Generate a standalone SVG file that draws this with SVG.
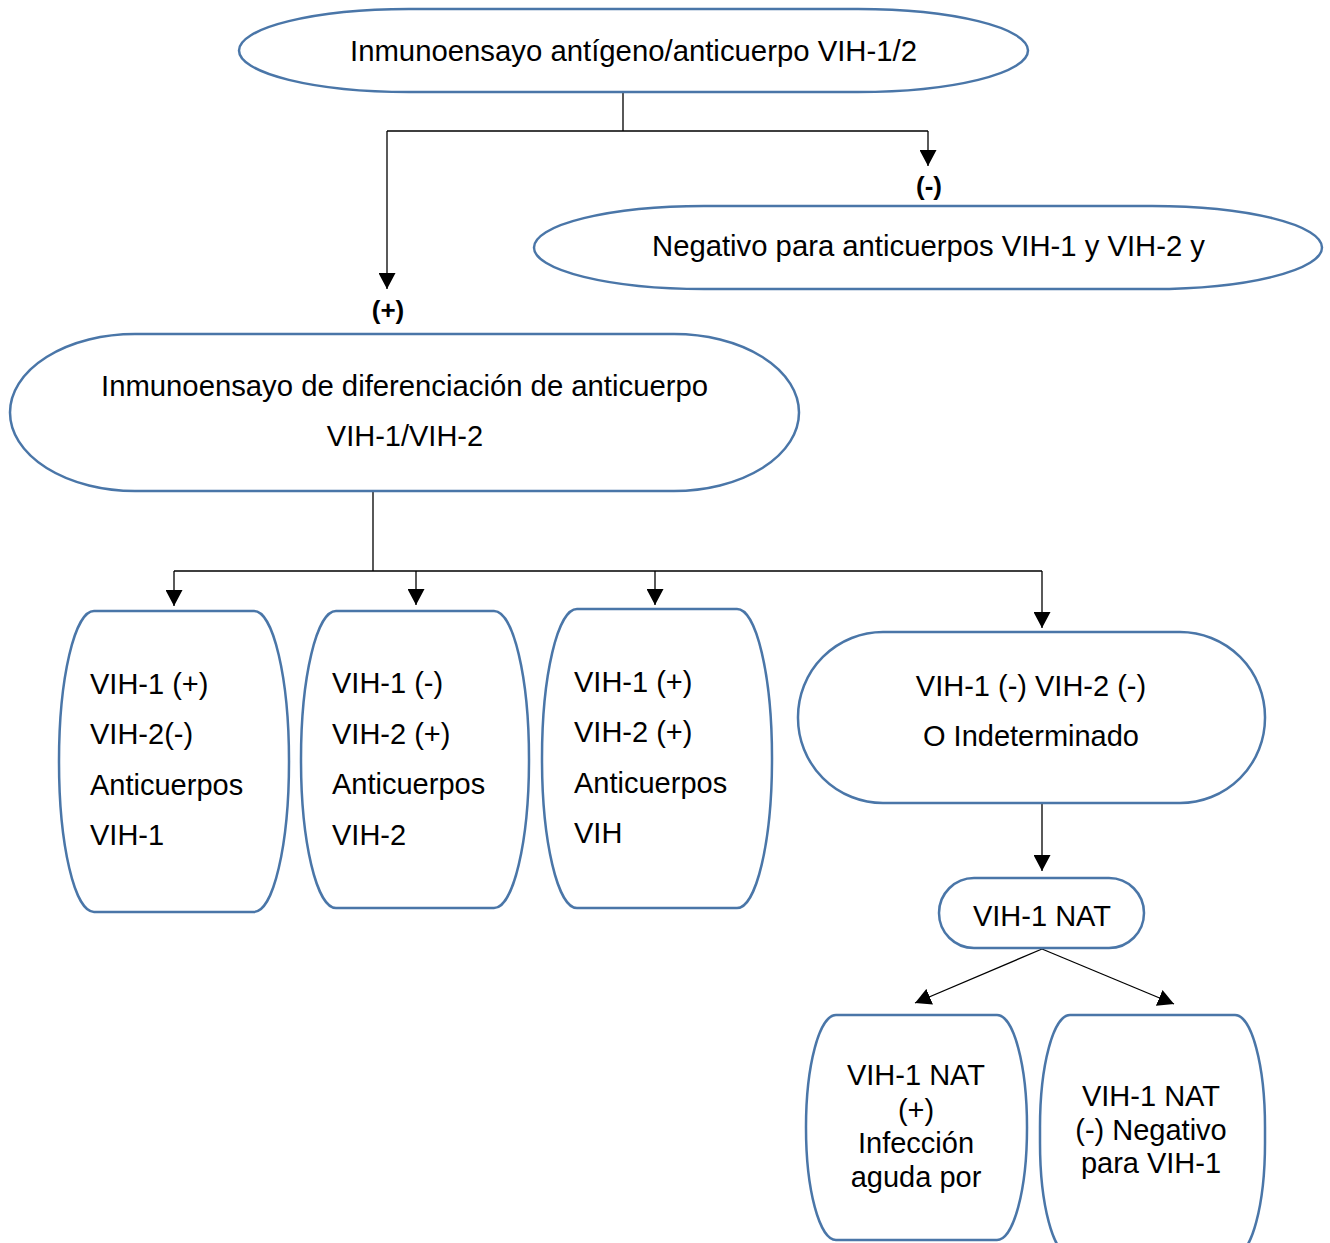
<svg xmlns="http://www.w3.org/2000/svg" width="1330" height="1243" viewBox="0 0 1330 1243">
<defs>
<style>
.n{fill:#fff;stroke:#4a76a8;stroke-width:2.5}
.t{font-family:"Liberation Sans",Arial,sans-serif;font-size:29px;fill:#000}
.c{text-anchor:middle}
.b{font-family:"Liberation Sans",Arial,sans-serif;font-size:26px;font-weight:bold;fill:#000;text-anchor:middle}
.l{fill:none;stroke:#000;stroke-width:1.3}
</style>
<marker id="a" markerUnits="userSpaceOnUse" markerWidth="17" markerHeight="17" viewBox="0 0 17 17" refX="16" refY="8.5" orient="auto">
<path d="M0,0 L16,8.5 L0,17 Z" fill="#000"/>
</marker>
</defs>
<rect width="1330" height="1243" fill="#fff"/>
<g id="connectors">
<path class="l" d="M623,92 V131 M387,131 H928"/>
<path class="l" d="M387,131 V289" marker-end="url(#a)"/>
<path class="l" d="M928,131 V166" marker-end="url(#a)"/>
<path class="l" d="M373,491 V571 M174,571 H1042"/>
<path class="l" d="M174,571 V606" marker-end="url(#a)"/>
<path class="l" d="M416,571 V605" marker-end="url(#a)"/>
<path class="l" d="M655,571 V605" marker-end="url(#a)"/>
<path class="l" d="M1042,571 V628" marker-end="url(#a)"/>
<path class="l" d="M1042,803 V871" marker-end="url(#a)"/>
<path class="l" d="M1042,949 L915,1003" marker-end="url(#a)"/>
<path class="l" d="M1042,949 L1174,1004" marker-end="url(#a)"/>
<text class="b" x="929" y="195">(-)</text>
<text class="b" x="388" y="319">(+)</text>
</g>
<g id="n1">
<rect class="n" x="239" y="9" width="789" height="83" rx="170" ry="41.5"/>
<text class="t c" x="633.5" y="61" textLength="567" lengthAdjust="spacingAndGlyphs">Inmunoensayo antígeno/anticuerpo VIH-1/2</text>
</g>
<g id="n2">
<rect class="n" x="534" y="206" width="788" height="83" rx="170" ry="41.5"/>
<text class="t c" x="928.5" y="256" textLength="553" lengthAdjust="spacingAndGlyphs">Negativo para anticuerpos VIH-1 y VIH-2 y</text>
</g>
<g id="n3">
<rect class="n" x="10" y="334" width="789" height="157" rx="125" ry="78.5"/>
<text class="t c" x="404.5" y="396" textLength="607" lengthAdjust="spacingAndGlyphs">Inmunoensayo de diferenciación de anticuerpo</text>
<text class="t c" x="405" y="446">VIH-1/VIH-2</text>
</g>
<g id="n4">
<rect class="n" x="59" y="611" width="230" height="301" rx="35" ry="150"/>
<text class="t" x="90" y="694">VIH-1 (+)</text>
<text class="t" x="90" y="744">VIH-2(-)</text>
<text class="t" x="90" y="795">Anticuerpos</text>
<text class="t" x="90" y="845">VIH-1</text>
</g>
<g id="n5">
<rect class="n" x="301" y="611" width="228" height="297" rx="35" ry="148"/>
<text class="t" x="332" y="693">VIH-1 (-)</text>
<text class="t" x="332" y="744">VIH-2 (+)</text>
<text class="t" x="332" y="794">Anticuerpos</text>
<text class="t" x="332" y="845">VIH-2</text>
</g>
<g id="n6">
<rect class="n" x="542" y="609" width="230" height="299" rx="35" ry="149"/>
<text class="t" x="574" y="692">VIH-1 (+)</text>
<text class="t" x="574" y="742">VIH-2 (+)</text>
<text class="t" x="574" y="793">Anticuerpos</text>
<text class="t" x="574" y="843">VIH</text>
</g>
<g id="n7">
<rect class="n" x="798" y="632" width="467" height="171" rx="85" ry="85"/>
<text class="t c" x="1031" y="696">VIH-1 (-) VIH-2 (-)</text>
<text class="t c" x="1031" y="746">O Indeterminado</text>
</g>
<g id="n8">
<rect class="n" x="939" y="878" width="205" height="70" rx="35" ry="35"/>
<text class="t c" x="1042" y="926">VIH-1 NAT</text>
</g>
<g id="n9">
<rect class="n" x="806" y="1015" width="221" height="225" rx="30" ry="112"/>
<text class="t c" x="916" y="1085">VIH-1 NAT</text>
<text class="t c" x="916" y="1120">(+)</text>
<text class="t c" x="916" y="1153">Infección</text>
<text class="t c" x="916" y="1187">aguda por</text>
</g>
<g id="n10">
<rect class="n" x="1040" y="1015" width="225" height="240" rx="30" ry="112"/>
<text class="t c" x="1151" y="1106">VIH-1 NAT</text>
<text class="t c" x="1151" y="1140">(-) Negativo</text>
<text class="t c" x="1151" y="1173">para VIH-1</text>
</g>
</svg>
